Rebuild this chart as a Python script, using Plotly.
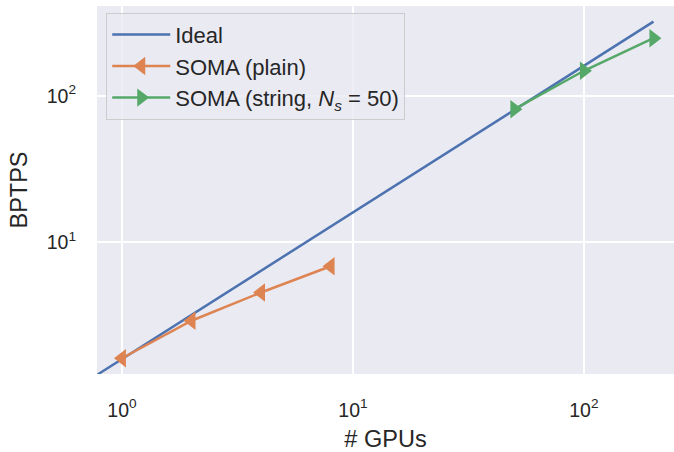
import plotly.graph_objects as go

# Data
ideal_x = [0.75, 200]
ideal_y = [1.2, 320]
plain_x = [1, 2, 4, 8]
plain_y = [1.62, 2.92, 4.55, 6.87]
string_x = [50, 100, 200]
string_y = [81, 148, 247]
x_tickvals = [1, 10, 100]
x_ticktext = ["10<sup>0</sup>", "10<sup>1</sup>", "10<sup>2</sup>"]
y_tickvals = [10, 100]
y_ticktext = ["10<sup>1</sup>", "10<sup>2</sup>"]

BLUE = "#4C72B0"
ORANGE = "#DD8452"
GREEN = "#55A868"
FONT = "Liberation Sans, Arial, sans-serif"

fig = go.Figure()
fig.add_trace(go.Scatter(x=ideal_x, y=ideal_y, mode="lines", name="Ideal", legendgroup="a",
                         line=dict(color=BLUE, width=2.5)))
fig.add_trace(go.Scatter(x=plain_x, y=plain_y, mode="lines+markers", name="SOMA (plain)",
                         legendgroup="b",
                         line=dict(color=ORANGE, width=2.5),
                         marker=dict(symbol="triangle-left", size=16, color=ORANGE)))
fig.add_trace(go.Scatter(x=string_x, y=string_y, mode="lines+markers", legendgroup="c",
                         name="SOMA (string, <i>N</i><sub><i>s</i></sub>&nbsp;=&nbsp;50)",
                         line=dict(color=GREEN, width=2.5),
                         marker=dict(symbol="triangle-right", size=16, color=GREEN)))

fig.update_layout(
    width=674, height=452,
    margin=dict(l=97, r=0, t=6, b=78),
    paper_bgcolor="white",
    plot_bgcolor="#EAEAF2",
    font=dict(family=FONT, size=19, color="#262626"),
    showlegend=True,
    legend=dict(x=0.016, y=0.982, xanchor="left", yanchor="top",
                bgcolor="rgba(234,234,242,0.8)", bordercolor="#CCCCCC", borderwidth=1,
                font=dict(size=22, family=FONT, color="#262626"),
                itemwidth=58, tracegroupgap=0),
)
fig.update_xaxes(type="log", range=[-0.108, 2.39], tickvals=x_tickvals, ticktext=x_ticktext,
                 showgrid=True, gridcolor="white", gridwidth=1.5, zeroline=False,
                 showline=False, ticks="", ticklabelstandoff=22,
                 tickfont=dict(size=19.5),
                 title=dict(text="# GPUs", font=dict(size=23.5), standoff=14))
fig.update_yaxes(type="log", range=[0.102, 2.612], tickvals=y_tickvals, ticktext=y_ticktext,
                 showgrid=True, gridcolor="white", gridwidth=1.5, zeroline=False,
                 showline=False, ticks="", ticklabelstandoff=20,
                 tickfont=dict(size=19.5),
                 title=dict(text="BPTPS", font=dict(size=23.5), standoff=12))

fig.write_html("out.html", config={"displayModeBar": False},
               post_script="document.body.style.margin='0';document.body.style.overflow='hidden';")
